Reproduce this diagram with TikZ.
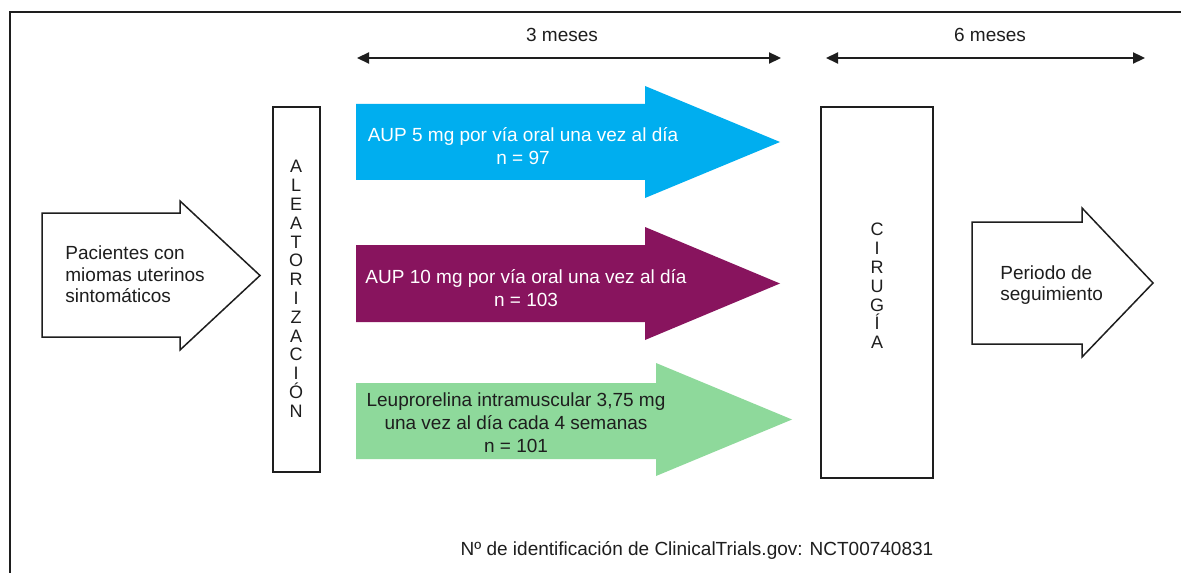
\documentclass[tikz,border=0pt]{standalone}
\usepackage{fontspec}
\setmainfont{Liberation Sans}
\usetikzlibrary{arrows.meta}
\definecolor{armblue}{RGB}{0,174,239}
\definecolor{armpurple}{RGB}{136,20,94}
\definecolor{armgreen}{RGB}{142,217,155}
\definecolor{ink}{RGB}{30,30,30}

\begin{document}
\begin{tikzpicture}[x=0.5pt,y=-0.5pt,
  frameline/.style={draw=ink, line width=1pt},
  stagebox/.style={draw=ink, line width=1pt, fill=white, inner sep=0pt},
  hollowarrow/.style={draw=ink, line width=0.75pt, fill=white, line join=miter},
  armarrow/.style={draw=none},
  span/.style={draw=ink, line width=1.1pt, {Triangle[length=6pt,width=5.5pt]}-{Triangle[length=6pt,width=5.5pt]}},
  txt/.style={font=\fontsize{9.5}{11.5}\selectfont, text=ink, inner sep=0pt},
  armtxt/.style={txt, align=center},
  letters/.style={font=\fontsize{9}{9.4}\selectfont, text=ink, inner sep=0pt, align=center}
]
\useasboundingbox (0,0) rectangle (1181,572);
\clip (0,0) rectangle (1181,572);
\fill[white] (0,0) rectangle (1181,572);

% outer frame (runs off the right and bottom edges)
\draw[frameline] (9.5,620) -- (9.5,12.5) -- (1220,12.5);

% time spans
\coordinate (s3a) at (357,58);
\coordinate (s3b) at (781,58);
\coordinate (s6a) at (826,58);
\coordinate (s6b) at (1145,58);
\draw[span] (s3a) -- (s3b);
\draw[span] (s6a) -- (s6b);
\node[txt] (s3lab) at (562,35) {3 meses};
\node[txt] (s6lab) at (990,35) {6 meses};

% patients arrow
\draw[hollowarrow] (42,213) -- (180,213) -- (180,201) -- (260,275.5) -- (180,350) -- (180,337) -- (42,337) -- cycle;
\node[txt, align=left, anchor=west, font=\fontsize{9.5}{10.75}\selectfont] (patients) at (65,274.5) {Pacientes con\\miomas uterinos\\sintomáticos};

% randomisation box
\node[stagebox, minimum width=23.5pt, minimum height=182.5pt] (alea) at (296.5,289.5) {};
\node[letters] (aleatxt) at (296,289) {A\\L\\E\\A\\T\\O\\R\\I\\Z\\A\\C\\I\\Ó\\N};

% treatment arms
\fill[armblue] (356,104) -- (645,104) -- (645,86) -- (780,142) -- (645,198) -- (645,180) -- (356,180) -- cycle;
\node[armtxt, text=white] (arm1) at (523,146.5) {AUP 5 mg por vía oral una vez al día\\n = 97};

\fill[armpurple] (356,245) -- (645,245) -- (645,227) -- (780,283.5) -- (645,340) -- (645,322) -- (356,322) -- cycle;
\node[armtxt, text=white] (arm2) at (526,288.5) {AUP 10 mg por vía oral una vez al día\\n = 103};

\fill[armgreen] (356,383) -- (656,383) -- (656,363) -- (792,419.5) -- (656,476) -- (656,459) -- (356,459) -- cycle;
\node[armtxt] (arm3) at (516,422.5) {Leuprorelina intramuscular 3,75 mg\\una vez al día cada 4 semanas\\n = 101};

% surgery box
\node[stagebox, minimum width=56pt, minimum height=185.5pt] (surgery) at (877,292.5) {};
\node[letters] (surgtxt) at (877,286) {C\\I\\R\\U\\G\\Í\\A};

% follow-up arrow
\draw[hollowarrow] (972,222) -- (1082,222) -- (1082,208) -- (1153,283) -- (1082,357) -- (1082,344) -- (972,344) -- cycle;
\node[txt, align=left, anchor=west, font=\fontsize{9.5}{10.5}\selectfont] (followup) at (1000,285) {Periodo de\\seguimiento};

% trial identifier
\node[txt] (trialid) at (697,550) {Nº de identificación de ClinicalTrials.gov: NCT00740831};
\end{tikzpicture}
\end{document}
